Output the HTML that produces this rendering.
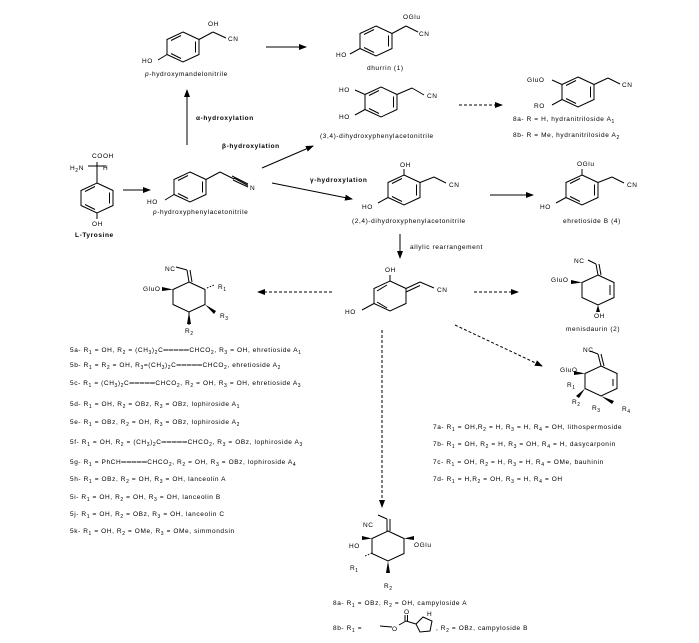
<!DOCTYPE html>
<html><head><meta charset="utf-8"><style>
html,body{margin:0;padding:0;background:#fff;}
svg{display:block;font-family:"Liberation Sans",sans-serif;}
text{font-size:6.5px;fill:#000;letter-spacing:0.6px}
.b{font-weight:bold}
</style></head><body>
<svg width="699" height="643" viewBox="0 0 699 643" xmlns="http://www.w3.org/2000/svg">
<defs>
<marker id="a" markerWidth="8" markerHeight="6" refX="7" refY="3" orient="auto"><path d="M0,0 L8,3 L0,6 z" fill="#000"/></marker>
<g id="ar" fill="none" stroke="#000" stroke-width="1">
<polygon points="0,-15 16,-7.5 16,7.5 0,15 -16,7.5 -16,-7.5"/>
<line x1="12.5" y1="-5.5" x2="12.5" y2="5.5"/>
<line x1="-2" y1="11.5" x2="-12" y2="6.5"/>
<line x1="-12" y1="-6.5" x2="-2" y2="-11.5"/>
</g>
<g id="hx" fill="none" stroke="#000" stroke-width="1">
<polygon points="0,-15 16,-7.5 16,7.5 0,15 -16,7.5 -16,-7.5"/>
</g>
</defs>
<use href="#ar" x="97" y="198"/>
<use href="#ar" x="190" y="187"/>
<use href="#ar" x="183" y="47"/>
<use href="#ar" x="376" y="41"/>
<use href="#ar" x="381" y="102"/>
<use href="#ar" x="578" y="92"/>
<use href="#ar" x="404" y="190"/>
<use href="#ar" x="582" y="190"/>
<use href="#hx" x="390" y="296"/>
<use href="#hx" x="189" y="297"/>
<use href="#hx" x="598" y="290"/>
<use href="#hx" x="601" y="381"/>
<use href="#hx" x="388" y="546"/>
<g fill="none" stroke="#000" stroke-width="1">
<line x1="97" y1="183" x2="97" y2="162"/><line x1="88" y1="166" x2="106" y2="166"/>
<line x1="97" y1="213" x2="97" y2="219"/>
<line x1="206" y1="179.5" x2="220" y2="172"/><line x1="220" y1="172" x2="234" y2="179"/>
<line x1="232" y1="176" x2="248" y2="184"/><line x1="233" y1="180" x2="248" y2="187"/><line x1="234" y1="178" x2="248" y2="185.5"/>
<line x1="174" y1="194.5" x2="165" y2="200"/>
<line x1="199" y1="39.5" x2="213" y2="32"/><line x1="213" y1="32" x2="226" y2="38"/>
<line x1="167" y1="54.5" x2="158" y2="60"/>
<line x1="392" y1="33.5" x2="406" y2="26"/><line x1="406" y1="26" x2="418" y2="32"/>
<line x1="360" y1="48.5" x2="350" y2="54"/>
<line x1="397" y1="94.5" x2="412" y2="88"/><line x1="412" y1="88" x2="424" y2="95"/>
<line x1="365" y1="94.5" x2="355" y2="90"/><line x1="365" y1="109.5" x2="355" y2="115"/>
<line x1="594" y1="84.5" x2="608" y2="78"/><line x1="608" y1="78" x2="620" y2="84"/>
<line x1="562" y1="84.5" x2="552" y2="80"/><line x1="562" y1="99.5" x2="552" y2="105"/>
<line x1="404" y1="175" x2="404" y2="169"/><line x1="420" y1="182.5" x2="434" y2="177"/><line x1="434" y1="177" x2="446" y2="183"/>
<line x1="388" y1="197.5" x2="378" y2="203"/>
<line x1="582" y1="175" x2="582" y2="169"/><line x1="598" y1="182.5" x2="612" y2="177"/><line x1="612" y1="177" x2="624" y2="183"/>
<line x1="566" y1="197.5" x2="556" y2="203"/>
<line x1="377" y1="291" x2="387" y2="285"/><line x1="377" y1="302" x2="387" y2="308"/>
<line x1="390" y1="281" x2="390" y2="275"/>
<line x1="406" y1="288.5" x2="420" y2="282"/><line x1="406" y1="292" x2="420" y2="285.5"/><line x1="420" y1="282" x2="434" y2="288"/>
<line x1="374" y1="303.5" x2="362" y2="310"/>
<line x1="189" y1="282" x2="187" y2="270"/><line x1="192" y1="282" x2="190" y2="270"/><line x1="187" y1="270" x2="176" y2="267"/>
<line x1="207" y1="288" x2="214" y2="285" stroke-dasharray="1.5,1.5"/>
<line x1="189" y1="312" x2="189" y2="325"/>
<!-- menisdaurin -->
<line x1="598" y1="275" x2="596" y2="264"/><line x1="601" y1="275" x2="599" y2="264"/><line x1="596" y1="264" x2="588" y2="260"/>
<line x1="610" y1="285" x2="610" y2="295"/>
<!-- 7 -->
<line x1="601" y1="366" x2="598" y2="354"/><line x1="604" y1="366" x2="601" y2="354"/><line x1="598" y1="354" x2="590" y2="351"/>
<line x1="613" y1="379" x2="613" y2="386"/>
<!-- bottom -->
<line x1="387" y1="531" x2="387" y2="519"/><line x1="390" y1="531" x2="390" y2="519"/><line x1="387" y1="519" x2="378" y2="515"/>
<line x1="372" y1="553" x2="365" y2="556" stroke-dasharray="1.5,1.5"/>
<line x1="380" y1="626" x2="392" y2="627"/><line x1="399" y1="625" x2="406" y2="621"/><line x1="405" y1="621" x2="405" y2="615"/><line x1="407.5" y1="621" x2="407.5" y2="615"/>
<line x1="406" y1="621" x2="416" y2="624"/>
<polygon points="416,624 423,617 432,621 430,631 420,632"/>
</g>
<g fill="#000">
<polygon points="173,289.5 162,287 162,291"/>
<polygon points="205,304.5 216,311 214,314"/>
<polygon points="189,312 187,324 191,324"/>
<polygon points="582,282.5 571,280 571,284"/>
<polygon points="598,305 596,312 600,312"/>
<polygon points="585,373.5 574,371 574,375"/>
<polygon points="585,388.5 579,398 576,396"/>
<polygon points="601,396 612,404 614,401"/>
<polygon points="372,538.5 362,536 362,540"/>
<polygon points="404,538.5 414,536 414,540"/>
<polygon points="388,561 386,573 390,573"/>
</g>
<g stroke="#000" stroke-width="1" fill="none" marker-end="url(#a)">
<line x1="123" y1="190" x2="150" y2="190"/>
<line x1="187" y1="145" x2="187" y2="90"/>
<line x1="266" y1="47" x2="306" y2="47"/>
<line x1="262" y1="168" x2="313" y2="146"/>
<line x1="272" y1="183" x2="352" y2="199"/>
<line x1="490" y1="195" x2="533" y2="195"/>
<line x1="400" y1="234" x2="400" y2="258"/>
<line x1="459" y1="105" x2="502" y2="105" stroke-dasharray="3,2"/>
<line x1="332" y1="292" x2="258" y2="292" stroke-dasharray="3,2"/>
<line x1="474" y1="292" x2="518" y2="292" stroke-dasharray="3,2"/>
<line x1="382" y1="330" x2="382" y2="507" stroke-dasharray="3,2"/>
<line x1="455" y1="325" x2="542" y2="366" stroke-dasharray="3,2"/>
</g>
<text x="92" y="158">COOH</text><text x="70" y="170">H<tspan font-size="5" dy="2">2</tspan><tspan dy="-2">N</tspan></text><text x="103" y="170">H</text>
<text x="92" y="226">OH</text><text x="75" y="237" class="b">L-Tyrosine</text>
<text x="147" y="204">HO</text><text x="250" y="190">N</text>
<text x="153" y="214"><tspan font-style="italic">p</tspan>-hydroxyphenylacetonitrile</text>
<text x="208" y="26">OH</text><text x="228" y="41">CN</text><text x="142" y="63">HO</text>
<text x="145" y="76"><tspan font-style="italic">p</tspan>-hydroxymandelonitrile</text>
<text x="196" y="120" class="b">α-hydroxylation</text>
<text x="222" y="148" class="b">β-hydroxylation</text>
<text x="310" y="182" class="b">γ-hydroxylation</text>
<text x="403" y="19">OGlu</text><text x="419" y="36">CN</text><text x="336" y="57">HO</text>
<text x="367" y="70">dhurrin (1)</text>
<text x="339" y="92">HO</text><text x="339" y="119">HO</text><text x="427" y="98">CN</text>
<text x="320" y="138">(3,4)-dihydroxyphenylacetonitrile</text>
<text x="527" y="82">GluO</text><text x="534" y="108">RO</text><text x="622" y="87">CN</text>
<text x="513" y="121">8a- R = H, hydranitriloside A<tspan font-size="5" dy="2">1</tspan></text>
<text x="513" y="137">8b- R = Me, hydranitriloside A<tspan font-size="5" dy="2">2</tspan></text>
<text x="400" y="167">OH</text><text x="362" y="209">HO</text><text x="449" y="187">CN</text>
<text x="352" y="223">(2,4)-dihydroxyphenylacetonitrile</text>
<text x="577" y="166">OGlu</text><text x="540" y="209">HO</text><text x="627" y="187">CN</text>
<text x="563" y="223">ehretioside B (4)</text>
<text x="410" y="249">allylic rearrangement</text>
<text x="385" y="272">OH</text><text x="345" y="314">HO</text><text x="437" y="292">CN</text>
<text x="165" y="271">NC</text><text x="143" y="291">GluO</text><text x="218" y="289">R<tspan font-size="5" dy="2">1</tspan></text>
<text x="220" y="318">R<tspan font-size="5" dy="2">3</tspan></text><text x="185" y="333">R<tspan font-size="5" dy="2">2</tspan></text>
<text x="574" y="263">NC</text><text x="551" y="282">GluO</text><text x="594" y="318">OH</text>
<text x="566" y="331">menisdaurin (2)</text>
<text x="583" y="352">NC</text><text x="560" y="372">GluO</text><text x="567" y="387">R<tspan font-size="5" dy="2">1</tspan></text>
<text x="572" y="404">R<tspan font-size="5" dy="2">2</tspan></text><text x="592" y="410">R<tspan font-size="5" dy="2">3</tspan></text><text x="622" y="411">R<tspan font-size="5" dy="2">4</tspan></text>
<g>
<text x="70" y="352">5a- R<tspan font-size="5" dy="2">1</tspan><tspan dy="-2"> = OH, R</tspan><tspan font-size="5" dy="2">2</tspan><tspan dy="-2"> = (CH</tspan><tspan font-size="5" dy="2">3</tspan><tspan dy="-2">)</tspan><tspan font-size="5" dy="2">2</tspan><tspan dy="-2">C═════CHCO</tspan><tspan font-size="5" dy="2">2</tspan><tspan dy="-2">, R</tspan><tspan font-size="5" dy="2">3</tspan><tspan dy="-2"> = OH, ehretioside A</tspan><tspan font-size="5" dy="2">1</tspan></text>
<text x="70" y="367">5b- R<tspan font-size="5" dy="2">1</tspan><tspan dy="-2"> = R</tspan><tspan font-size="5" dy="2">2</tspan><tspan dy="-2"> = OH, R</tspan><tspan font-size="5" dy="2">3</tspan><tspan dy="-2">=(CH</tspan><tspan font-size="5" dy="2">3</tspan><tspan dy="-2">)</tspan><tspan font-size="5" dy="2">2</tspan><tspan dy="-2">C═════CHCO</tspan><tspan font-size="5" dy="2">2</tspan><tspan dy="-2">, ehretioside A</tspan><tspan font-size="5" dy="2">2</tspan></text>
<text x="70" y="385">5c- R<tspan font-size="5" dy="2">1</tspan><tspan dy="-2"> = (CH</tspan><tspan font-size="5" dy="2">3</tspan><tspan dy="-2">)</tspan><tspan font-size="5" dy="2">2</tspan><tspan dy="-2">C═════CHCO</tspan><tspan font-size="5" dy="2">2</tspan><tspan dy="-2">, R</tspan><tspan font-size="5" dy="2">2</tspan><tspan dy="-2"> = OH, R</tspan><tspan font-size="5" dy="2">3</tspan><tspan dy="-2"> = OH, ehretioside A</tspan><tspan font-size="5" dy="2">3</tspan></text>
<text x="70" y="406">5d- R<tspan font-size="5" dy="2">1</tspan><tspan dy="-2"> = OH, R</tspan><tspan font-size="5" dy="2">2</tspan><tspan dy="-2"> = OBz, R</tspan><tspan font-size="5" dy="2">3</tspan><tspan dy="-2"> = OBz, lophiroside A</tspan><tspan font-size="5" dy="2">1</tspan></text>
<text x="70" y="424">5e- R<tspan font-size="5" dy="2">1</tspan><tspan dy="-2"> = OBz, R</tspan><tspan font-size="5" dy="2">2</tspan><tspan dy="-2"> = OH, R</tspan><tspan font-size="5" dy="2">3</tspan><tspan dy="-2"> = OBz, lophiroside A</tspan><tspan font-size="5" dy="2">2</tspan></text>
<text x="70" y="444">5f- R<tspan font-size="5" dy="2">1</tspan><tspan dy="-2"> = OH, R</tspan><tspan font-size="5" dy="2">2</tspan><tspan dy="-2"> = (CH</tspan><tspan font-size="5" dy="2">3</tspan><tspan dy="-2">)</tspan><tspan font-size="5" dy="2">2</tspan><tspan dy="-2">C═════CHCO</tspan><tspan font-size="5" dy="2">2</tspan><tspan dy="-2">, R</tspan><tspan font-size="5" dy="2">3</tspan><tspan dy="-2"> = OBz, lophiroside A</tspan><tspan font-size="5" dy="2">3</tspan></text>
<text x="70" y="464">5g- R<tspan font-size="5" dy="2">1</tspan><tspan dy="-2"> = PhCH═════CHCO</tspan><tspan font-size="5" dy="2">2</tspan><tspan dy="-2">, R</tspan><tspan font-size="5" dy="2">2</tspan><tspan dy="-2"> = OH, R</tspan><tspan font-size="5" dy="2">3</tspan><tspan dy="-2"> = OBz, lophiroside A</tspan><tspan font-size="5" dy="2">4</tspan></text>
<text x="70" y="481">5h- R<tspan font-size="5" dy="2">1</tspan><tspan dy="-2"> = OBz, R</tspan><tspan font-size="5" dy="2">2</tspan><tspan dy="-2"> = OH, R</tspan><tspan font-size="5" dy="2">3</tspan><tspan dy="-2"> = OH, lanceolin A</tspan></text>
<text x="70" y="499">5i- R<tspan font-size="5" dy="2">1</tspan><tspan dy="-2"> = OH, R</tspan><tspan font-size="5" dy="2">2</tspan><tspan dy="-2"> = OH, R</tspan><tspan font-size="5" dy="2">3</tspan><tspan dy="-2"> = OH, lanceolin B</tspan></text>
<text x="70" y="516">5j- R<tspan font-size="5" dy="2">1</tspan><tspan dy="-2"> = OH, R</tspan><tspan font-size="5" dy="2">2</tspan><tspan dy="-2"> = OBz, R</tspan><tspan font-size="5" dy="2">3</tspan><tspan dy="-2"> = OH, lanceolin C</tspan></text>
<text x="70" y="533">5k- R<tspan font-size="5" dy="2">1</tspan><tspan dy="-2"> = OH, R</tspan><tspan font-size="5" dy="2">2</tspan><tspan dy="-2"> = OMe, R</tspan><tspan font-size="5" dy="2">3</tspan><tspan dy="-2"> = OMe, simmondsin</tspan></text>
</g>
<text x="433" y="429">7a- R<tspan font-size="5" dy="2">1</tspan><tspan dy="-2"> = OH,R</tspan><tspan font-size="5" dy="2">2</tspan><tspan dy="-2"> = H, R</tspan><tspan font-size="5" dy="2">3</tspan><tspan dy="-2"> = H, R</tspan><tspan font-size="5" dy="2">4</tspan><tspan dy="-2"> = OH, lithospermoside</tspan></text>
<text x="433" y="446">7b- R<tspan font-size="5" dy="2">1</tspan><tspan dy="-2"> = OH, R</tspan><tspan font-size="5" dy="2">2</tspan><tspan dy="-2"> = H, R</tspan><tspan font-size="5" dy="2">3</tspan><tspan dy="-2"> = OH, R</tspan><tspan font-size="5" dy="2">4</tspan><tspan dy="-2"> = H, dasycarponin</tspan></text>
<text x="433" y="464">7c- R<tspan font-size="5" dy="2">1</tspan><tspan dy="-2"> = OH, R</tspan><tspan font-size="5" dy="2">2</tspan><tspan dy="-2"> = H, R</tspan><tspan font-size="5" dy="2">3</tspan><tspan dy="-2"> = H, R</tspan><tspan font-size="5" dy="2">4</tspan><tspan dy="-2"> = OMe, bauhinin</tspan></text>
<text x="433" y="481">7d- R<tspan font-size="5" dy="2">1</tspan><tspan dy="-2"> = H,R</tspan><tspan font-size="5" dy="2">2</tspan><tspan dy="-2"> = OH, R</tspan><tspan font-size="5" dy="2">3</tspan><tspan dy="-2"> = H, R</tspan><tspan font-size="5" dy="2">4</tspan><tspan dy="-2"> = OH</tspan></text>
<text x="363" y="527">NC</text><text x="349" y="548">HO</text><text x="414" y="547">OGlu</text>
<text x="350" y="570">R<tspan font-size="5" dy="2">1</tspan></text><text x="384" y="588">R<tspan font-size="5" dy="2">2</tspan></text>
<text x="333" y="605">8a- R<tspan font-size="5" dy="2">1</tspan><tspan dy="-2"> = OBz, R</tspan><tspan font-size="5" dy="2">2</tspan><tspan dy="-2"> = OH, campyloside A</tspan></text>
<text x="333" y="630">8b- R<tspan font-size="5" dy="2">1</tspan><tspan dy="-2"> = </tspan></text>
<text x="392" y="631">O</text><text x="404" y="614">O</text><text x="427" y="616">H</text>
<text x="436" y="630">, R<tspan font-size="5" dy="2">2</tspan><tspan dy="-2"> = OBz, campyloside B</tspan></text>
</svg>
</body></html>
